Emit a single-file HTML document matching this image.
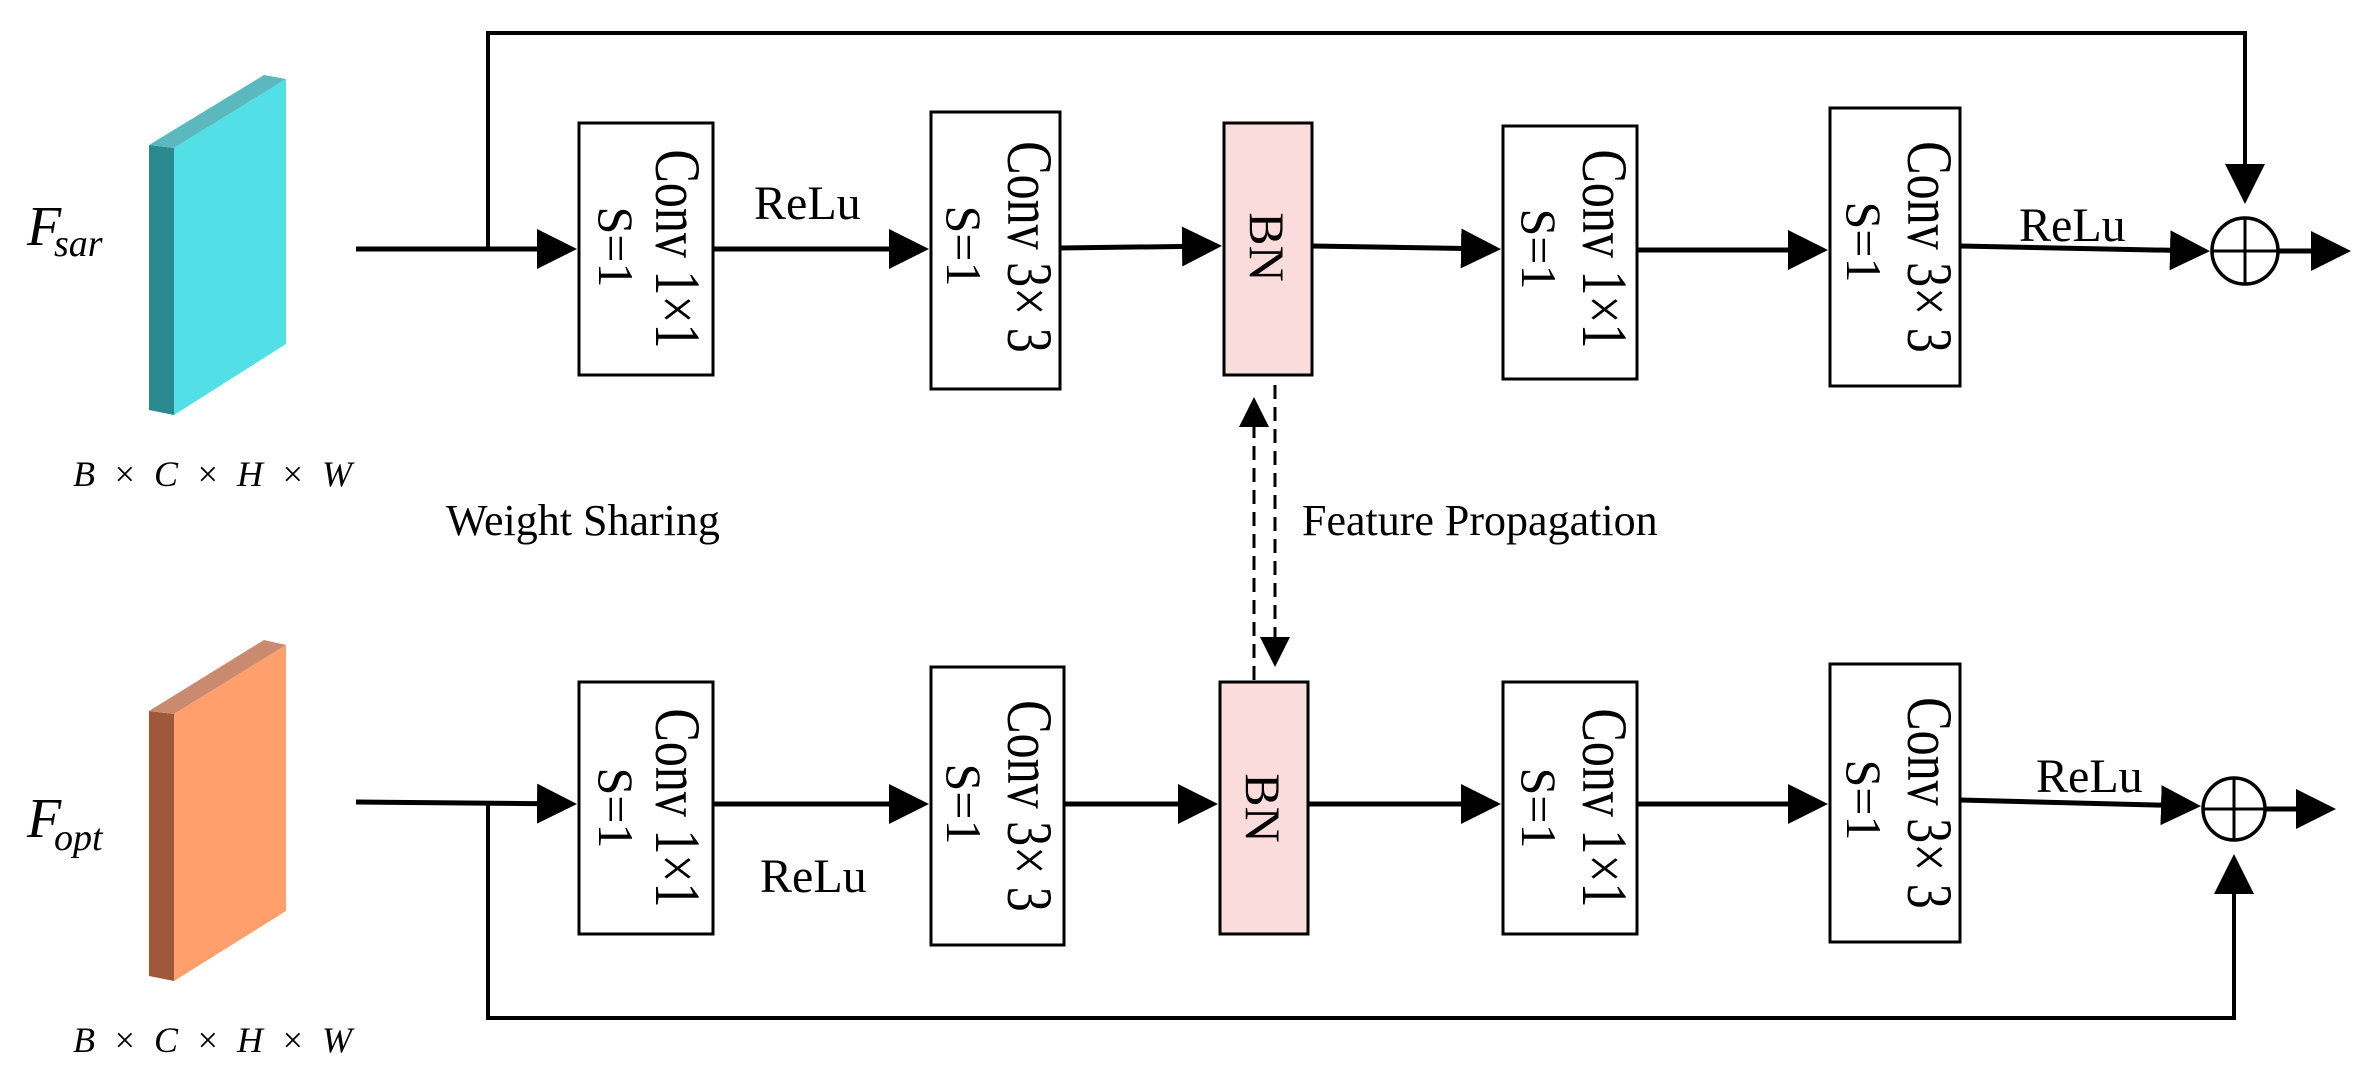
<!DOCTYPE html>
<html><head><meta charset="utf-8"><style>
html,body{margin:0;padding:0;background:#fff}
svg{display:block}
text{font-family:"Liberation Serif",serif;fill:#000}
</style></head><body>
<svg width="2364" height="1077" viewBox="0 0 2364 1077" xmlns="http://www.w3.org/2000/svg">
<defs>
<marker id="ah" markerWidth="8" markerHeight="8" refX="7" refY="4" orient="auto" markerUnits="strokeWidth">
<path d="M0,0 L8,4 L0,8 Z" fill="#000"/></marker>
<marker id="ah2" markerWidth="10" markerHeight="10" refX="9" refY="5" orient="auto" markerUnits="strokeWidth">
<path d="M0,0 L10,5 L0,10 Z" fill="#000"/></marker>
</defs>

<!-- Slabs -->
<polygon points="149,145 174,148 174,415 149,410" fill="#2a8a90"/>
<polygon points="149,145 264,75 286,79 174,148" fill="#5ab8be"/>
<polygon points="174,148 286,79 286,344 174,415" fill="#52dfe6"/>

<polygon points="149,711 174,714 174,981 149,976" fill="#a0583a"/>
<polygon points="149,711 264,640 286,645 174,714" fill="#c98a6f"/>
<polygon points="174,714 286,645 286,911 174,981" fill="#ff9f6b"/>

<!-- Labels left -->
<text x="27" y="245" font-size="56" font-style="italic">F</text>
<text x="54" y="256" font-size="38" font-style="italic">sar</text>
<text x="27" y="837" font-size="56" font-style="italic">F</text>
<text x="54" y="850" font-size="38" font-style="italic">opt</text>
<text x="73" y="486" font-size="36" font-style="italic" textLength="279">B × C × H × W</text>
<text x="73" y="1052" font-size="36" font-style="italic" textLength="279">B × C × H × W</text>
<text x="446" y="535" font-size="44">Weight Sharing</text>
<text x="1302" y="535" font-size="44">Feature Propagation</text>

<!-- Top row connectors -->
<g stroke="#000" fill="none">
<polyline points="488,249 488,33 2245,33 2245,200" stroke-width="4" marker-end="url(#ah2)"/>
<line x1="356" y1="249" x2="572" y2="249" stroke-width="5" marker-end="url(#ah)"/>
<line x1="713" y1="249" x2="924" y2="249" stroke-width="5" marker-end="url(#ah)"/>
<line x1="1060" y1="248" x2="1217" y2="246" stroke-width="5" marker-end="url(#ah)"/>
<line x1="1312" y1="246" x2="1496" y2="249" stroke-width="5" marker-end="url(#ah)"/>
<line x1="1637" y1="250" x2="1823" y2="250" stroke-width="5" marker-end="url(#ah)"/>
<line x1="1960" y1="246" x2="2205" y2="251" stroke-width="5" marker-end="url(#ah)"/>
<line x1="2278" y1="251" x2="2346" y2="251" stroke-width="5" marker-end="url(#ah)"/>
<circle cx="2245" cy="251" r="33" stroke-width="3.5"/>
<line x1="2212" y1="251" x2="2278" y2="251" stroke-width="3"/>
<line x1="2245" y1="218" x2="2245" y2="284" stroke-width="3"/>

<!-- Bottom row -->
<polyline points="488,804 488,1018 2234,1018 2234,858" stroke-width="4" marker-end="url(#ah2)"/>
<line x1="356" y1="802" x2="572" y2="804" stroke-width="5" marker-end="url(#ah)"/>
<line x1="713" y1="804" x2="924" y2="804" stroke-width="5" marker-end="url(#ah)"/>
<line x1="1064" y1="804" x2="1213" y2="804" stroke-width="5" marker-end="url(#ah)"/>
<line x1="1308" y1="804" x2="1496" y2="804" stroke-width="5" marker-end="url(#ah)"/>
<line x1="1637" y1="804" x2="1823" y2="804" stroke-width="5" marker-end="url(#ah)"/>
<line x1="1960" y1="800" x2="2196" y2="806" stroke-width="5" marker-end="url(#ah)"/>
<line x1="2265" y1="809" x2="2331" y2="809" stroke-width="5" marker-end="url(#ah)"/>
<circle cx="2234" cy="809" r="31" stroke-width="3.5"/>
<line x1="2203" y1="809" x2="2265" y2="809" stroke-width="3"/>
<line x1="2234" y1="778" x2="2234" y2="840" stroke-width="3"/>

<!-- dashed -->
<line x1="1254" y1="680" x2="1254" y2="400" stroke-width="3" stroke-dasharray="14,8" marker-end="url(#ah2)"/>
<line x1="1275" y1="385" x2="1275" y2="664" stroke-width="3" stroke-dasharray="14,8" marker-end="url(#ah2)"/>
</g>

<!-- Boxes -->
<g stroke="#000" stroke-width="3">
<rect x="579" y="123" width="134" height="252" fill="#fff"/>
<rect x="931" y="112" width="129" height="277" fill="#fff"/>
<rect x="1224" y="123" width="88" height="252" fill="#fadcdc"/>
<rect x="1503" y="126" width="134" height="253" fill="#fff"/>
<rect x="1830" y="108" width="130" height="278" fill="#fff"/>

<rect x="579" y="682" width="134" height="252" fill="#fff"/>
<rect x="931" y="667" width="133" height="278" fill="#fff"/>
<rect x="1220" y="682" width="88" height="252" fill="#fadcdc"/>
<rect x="1503" y="682" width="134" height="252" fill="#fff"/>
<rect x="1830" y="664" width="130" height="278" fill="#fff"/>
</g>

<!-- Relu labels -->
<text x="754" y="219" font-size="48">ReLu</text>
<text x="2019" y="241" font-size="48">ReLu</text>
<text x="760" y="892" font-size="48">ReLu</text>
<text x="2036" y="792" font-size="48">ReLu</text>

<!-- Rotated box texts -->
<g font-size="50" text-anchor="middle">
<text transform="translate(656,249) rotate(90) scale(1,1.3)">Conv 1×1</text>
<text transform="translate(599,247) rotate(90)">S=1</text>
<text transform="translate(1008,247) rotate(90) scale(1,1.3)">Conv 3× 3</text>
<text transform="translate(947,246) rotate(90)">S=1</text>
<text transform="translate(1250,247) rotate(90)">BN</text>
<text transform="translate(1583,249) rotate(90) scale(1,1.3)">Conv 1×1</text>
<text transform="translate(1522,249) rotate(90)">S=1</text>
<text transform="translate(1908,247) rotate(90) scale(1,1.3)">Conv 3× 3</text>
<text transform="translate(1847,242) rotate(90)">S=1</text>

<text transform="translate(656,808) rotate(90) scale(1,1.3)">Conv 1×1</text>
<text transform="translate(599,808) rotate(90)">S=1</text>
<text transform="translate(1008,806) rotate(90) scale(1,1.3)">Conv 3× 3</text>
<text transform="translate(947,804) rotate(90)">S=1</text>
<text transform="translate(1246,808) rotate(90)">BN</text>
<text transform="translate(1583,808) rotate(90) scale(1,1.3)">Conv 1×1</text>
<text transform="translate(1522,808) rotate(90)">S=1</text>
<text transform="translate(1908,803) rotate(90) scale(1,1.3)">Conv 3× 3</text>
<text transform="translate(1847,800) rotate(90)">S=1</text>
</g>
</svg>
</body></html>
